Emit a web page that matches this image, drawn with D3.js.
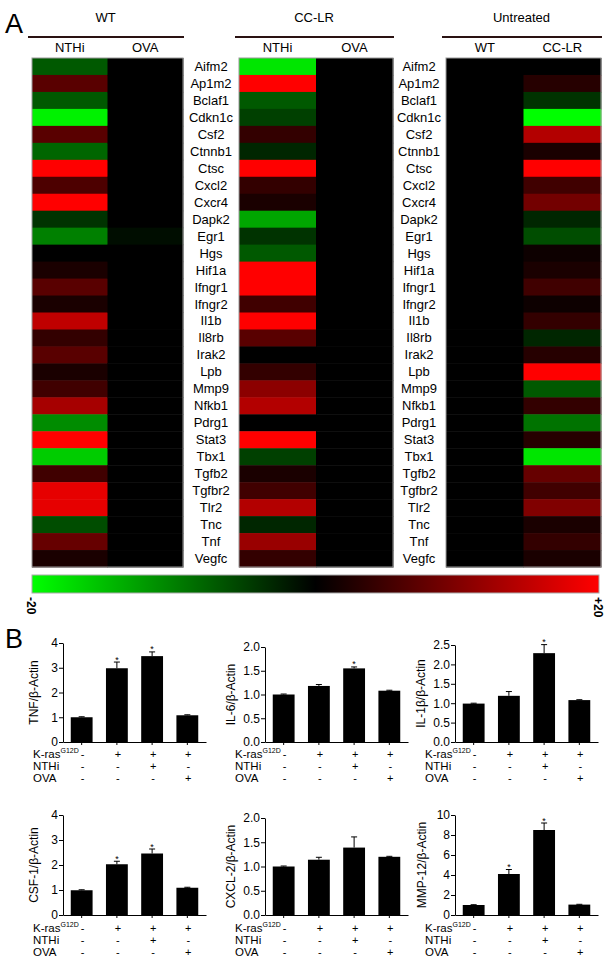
<!DOCTYPE html>
<html><head><meta charset="utf-8">
<script src="https://cdn.jsdelivr.net/npm/d3@7"></script>
<style>body{margin:0;background:#fff}svg{display:block;font-family:"Liberation Sans",Arial,sans-serif}</style>
</head><body><svg id="c" width="606" height="960"></svg>
<script>
// ---------- Heatmap data ----------
const genes = ["Aifm2","Ap1m2","Bclaf1","Cdkn1c","Csf2","Ctnnb1","Ctsc","Cxcl2","Cxcr4","Dapk2","Egr1","Hgs","Hif1a","Ifngr1","Ifngr2","Il1b","Il8rb","Irak2","Lpb","Mmp9","Nfkb1","Pdrg1","Stat3","Tbx1","Tgfb2","Tgfbr2","Tlr2","Tnc","Tnf","Vegfc"];
const wtNTHi   = [-7,7,-7,-19,7,-8,20,6,20,-4,-10,0,2,7,2,15,4,7,2,5,13,-11,20,-16,5,18,18,-6,8,2];
const wtOVA    = [0,0,0,0,0,0,0,0,0,0,-1,0,0,0,0,0,0,0,0,0,0,0,0,0,0,0,0,0,0,0];
const cclrNTHi = [-18,20,-7,-5,4,-3,20,4,2,-13,-4,-7,20,20,5,20,7,0,4,11,14,0,20,-5,2,5,14,-3,12,4];
const cclrOVA  = [0,0,0,0,0,0,0,0,0,0,0,0,0,0,0,0,0,0,0,0,0,0,0,0,0,0,0,0,0,0];
const untrWT   = [0,0,0,0,0,0,0,0,0,0,0,0,0,0,0,0,0,0,0,0,0,0,0,0,0,0,0,0,0,0];
const untrCCLR = [0,3,-4,-20,14,2,20,5,9,-3,-6,1,2,5,1,4,-3,3,20,-7,4,-9,3,-18,8,5,10,2,4,2];
const groupNames = ["WT","CC-LR","Untreated"];
const subNames = [["NTHi","OVA"],["NTHi","OVA"],["WT","CC-LR"]];
const colorTicks = ["-20","+20"];

// ---------- Bar chart data ----------
const conditions = ["c1","c2","c3","c4"];
const krasSigns = ["-","+","+","+"];
const nthiSigns = ["-","-","+","-"];
const ovaSigns  = ["-","-","-","+"];
const tnfVals  = [1.0,2.98,3.47,1.08],  tnfErr  = [0.02,0.25,0.17,0.02], tnfStar  = [0,1,1,0];
const il6Vals  = [1.0,1.18,1.55,1.08],  il6Err  = [0.01,0.03,0.03,0.01], il6Star  = [0,0,1,0];
const il1bVals = [0.99,1.19,2.29,1.08], il1bErr = [0.01,0.11,0.22,0.01], il1bStar = [0,0,1,0];
const csfVals  = [0.99,2.03,2.46,1.09], csfErr  = [0.02,0.12,0.18,0.02], csfStar  = [0,1,1,0];
const cxclVals = [1.0,1.14,1.39,1.2],   cxclErr = [0.01,0.05,0.22,0.01], cxclStar = [0,0,0,0];
const mmpVals  = [1.0,4.1,8.5,1.04],    mmpErr  = [0.03,0.45,0.7,0.03],  mmpStar  = [0,1,1,0];
const tnfTicks = [0,1,2,3,4], il6Ticks=[0,0.5,1,1.5,2], il1bTicks=[0,0.5,1,1.5,2,2.5];
const csfTicks = [0,1,2,3,4], cxclTicks=[0,0.5,1,1.5,2], mmpTicks=[0,2,4,6,8,10];

const svg = d3.select("#c");
const color = d3.scaleLinear().domain([-20,0,20]).range(["#00ff00","#000000","#ff0000"]);

// Panel letters
svg.append("text").attr("x",5).attr("y",33).attr("font-size",27).text("A");
svg.append("text").attr("x",5).attr("y",648).attr("font-size",27).text("B");

// Heatmap
const y = d3.scaleBand().domain(genes).range([58,567]);
const blocks = [
  {x0:32, x1:183, cols:[wtNTHi,wtOVA]},
  {x0:239, x1:393, cols:[cclrNTHi,cclrOVA]},
  {x0:446, x1:601, cols:[untrWT,untrCCLR]}
];
blocks.forEach((b,bi)=>{
  const x = d3.scaleBand().domain([0,1]).range([b.x0,b.x1]);
  const g = svg.append("g");
  b.cols.forEach((vals,ci)=>{
    g.selectAll(null).data(vals).enter().append("rect")
      .attr("x",x(ci)).attr("width",x.bandwidth()+0.5)
      .attr("y",(d,i)=>y(genes[i])).attr("height",y.bandwidth()+0.5)
      .attr("fill",d=>color(d));
    g.append("text").attr("x",x(ci)+x.bandwidth()/2).attr("y",52)
      .attr("text-anchor","middle").attr("font-size",13).text(subNames[bi][ci]);
  });
  g.append("rect").attr("x",b.x0).attr("y",58).attr("width",b.x1-b.x0).attr("height",509)
    .attr("fill","none").attr("stroke","#999").attr("stroke-width",1);
  g.append("line").attr("x1",b.x0-4).attr("x2",b.x1+1).attr("y1",37).attr("y2",37)
    .attr("stroke","#2a1212").attr("stroke-width",2);
  g.append("text").attr("x",(b.x0-4+b.x1)/2).attr("y",22).attr("text-anchor","middle")
    .attr("font-size",13).text(groupNames[bi]);
});
[211,419].forEach(cx=>{
  svg.append("g").selectAll("text").data(genes).enter().append("text")
    .attr("x",cx).attr("y",d=>y(d)+y.bandwidth()/2+4.5).attr("text-anchor","middle")
    .attr("font-size",13).text(d=>d);
});

// Colorbar
const cb = d3.scaleLinear().domain([-20,20]).range([32,599]);
const grad = svg.append("defs").append("linearGradient").attr("id","cbg");
d3.range(-20,21,5).forEach(v=>grad.append("stop").attr("offset",(v+20)/40).attr("stop-color",color(v)));
svg.append("rect").attr("x",cb(-20)).attr("y",575).attr("width",cb(20)-cb(-20)).attr("height",18)
  .attr("fill","url(#cbg)").attr("stroke","#aaa").attr("stroke-width",1);
[[-20,colorTicks[0]],[20,colorTicks[1]]].forEach(([v,t])=>{
  svg.append("text").attr("transform",`translate(${cb(v)-1},597) rotate(90)`)
    .attr("font-size",12).attr("font-weight","bold").attr("dy","0.35em").text(t);
});

// Bar charts
function barPanel(ax, top, bottom, ymax, ticks, fmt, vals, errs, stars, title, titleOff, labY){
  const g = svg.append("g");
  const x = d3.scaleBand().domain(conditions).range([ax, ax+143]).paddingInner(0.38).paddingOuter(0.22);
  const yy = d3.scaleLinear().domain([0,ymax]).range([bottom,top]);
  g.append("g").attr("transform",`translate(${ax},0)`)
    .call(d3.axisLeft(yy).tickValues(ticks).tickFormat(d3.format(fmt)).tickSize(4).tickPadding(1).tickSizeOuter(0))
    .call(s=>{s.selectAll("text").attr("font-size",12).attr("font-family","Liberation Sans, Arial").attr("fill","#000");
              s.selectAll("line,path").attr("stroke","#000");});
  g.append("g").attr("transform",`translate(0,${bottom})`)
    .call(d3.axisBottom(x).tickSize(3).tickSizeOuter(0).tickFormat(""))
    .call(s=>s.selectAll("line,path").attr("stroke","#000"));
  g.selectAll("rect").data(vals).enter().append("rect")
    .attr("x",(d,i)=>x(conditions[i])).attr("width",x.bandwidth())
    .attr("y",d=>yy(d)).attr("height",d=>bottom-yy(d)).attr("fill","#000");
  vals.forEach((v,i)=>{
    const cx = x(conditions[i])+x.bandwidth()/2;
    g.append("line").attr("x1",cx).attr("x2",cx).attr("y1",yy(v)).attr("y2",yy(v+errs[i])).attr("stroke","#000");
    g.append("line").attr("x1",cx-3).attr("x2",cx+3).attr("y1",yy(v+errs[i])).attr("y2",yy(v+errs[i])).attr("stroke","#000");
    if(stars[i]) g.append("text").attr("x",cx).attr("y",yy(v+errs[i])+0.5).attr("text-anchor","middle")
      .attr("font-size",9).text("*");
  });
  g.append("text").attr("transform",`translate(${ax-titleOff},${(top+bottom)/2}) rotate(-90)`)
    .attr("text-anchor","middle").attr("font-size",12).text(title);
  const lx = ax-30;
  const t1 = g.append("text").attr("x",lx).attr("y",labY[0]).attr("font-size",11.5);
  t1.append("tspan").text("K-ras");
  t1.append("tspan").attr("font-size",7).attr("dy",-5).text("G12D");
  [["NTHi",labY[1]],["OVA",labY[2]]].forEach(([t,yv])=>g.append("text").attr("x",lx).attr("y",yv).attr("font-size",11.5).text(t));
  [krasSigns,nthiSigns,ovaSigns].forEach((signs,r)=>{
    signs.forEach((s,i)=>g.append("text").attr("x",x(conditions[i])+x.bandwidth()/2+1).attr("y",labY[r])
      .attr("text-anchor","middle").attr("font-size",11).text(s));
  });
}
const row1 = [758,770,782], row2=[932,944,956];
barPanel(63,643,742,4,tnfTicks,"d",tnfVals,tnfErr,tnfStar,"TNF/β-Actin",25,row1);
barPanel(265,647,742,2,il6Ticks,".1f",il6Vals,il6Err,il6Star,"IL-6/β-Actin",30,row1);
barPanel(455,645,742,2.5,il1bTicks,".1f",il1bVals,il1bErr,il1bStar,"IL-1β/β-Actin",30,row1);
barPanel(63,815,915,4,csfTicks,"d",csfVals,csfErr,csfStar,"CSF-1/β-Actin",25,row2);
barPanel(265,818,915,2,cxclTicks,".1f",cxclVals,cxclErr,cxclStar,"CXCL-2/β-Actin",30,row2);
barPanel(455,815,915,10,mmpTicks,"d",mmpVals,mmpErr,mmpStar,"MMP-12/β-Actin",29,row2);
</script></body></html>
